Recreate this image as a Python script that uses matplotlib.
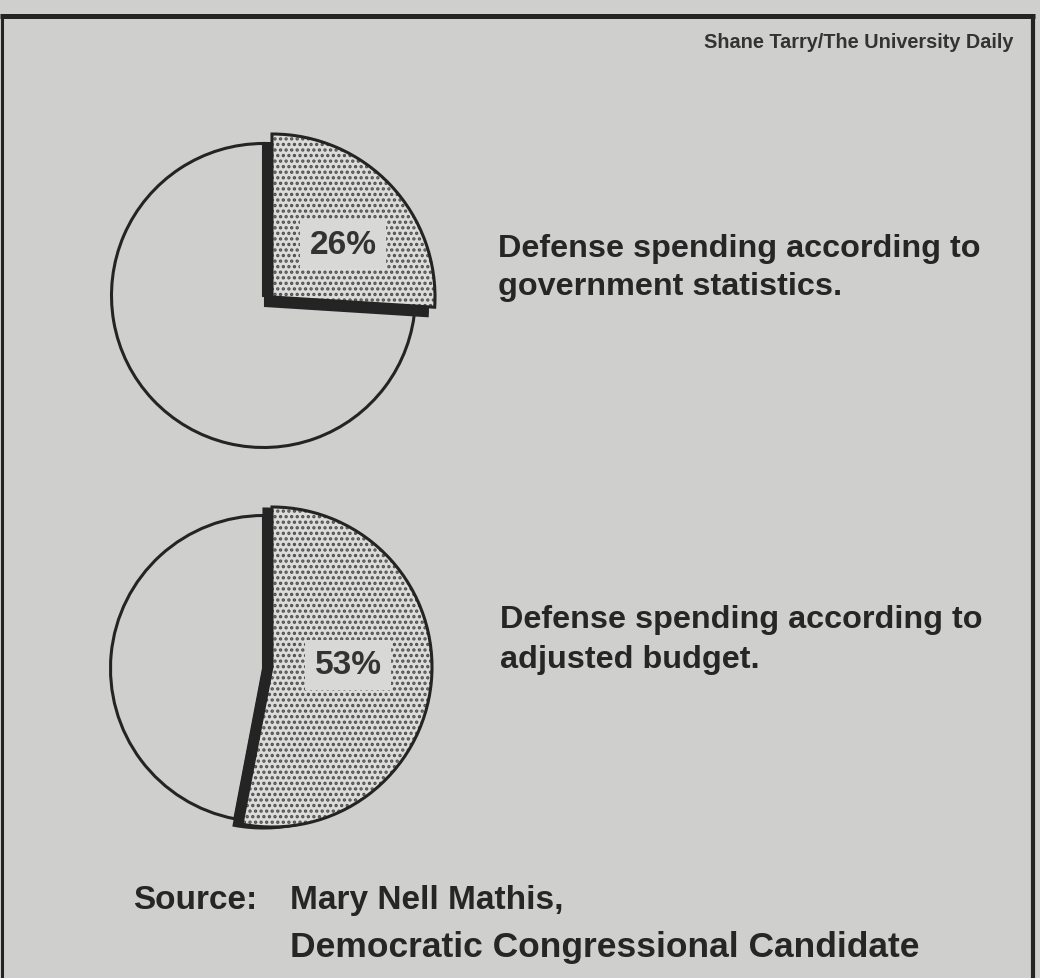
import matplotlib
matplotlib.use('Agg')
import matplotlib.pyplot as plt

# ---------------- data ----------------
shares = [[26, 74], [53, 47]]            # defense share vs rest (percent)
pct_labels = ['26%', '53%']
captions = [['Defense spending according to', 'government statistics.'],
            ['Defense spending according to', 'adjusted budget.']]
credit = 'Shane Tarry/The University Daily'
source_head = 'Source:'
source_lines = ['Mary Nell Mathis,', 'Democratic Congressional Candidate']

# ---------------- style / layout ----------------
W, H = 1040, 979
BG = '#cfd0ce'
INK = '#242424'
DOTFILL = '#dcdcda'
DOTCOL = '#4e4e4e'
BOXFILL = '#d8d8d6'
FONT = 'Liberation Sans'
plt.rcParams['hatch.linewidth'] = 1.6

fig = plt.figure(figsize=(10.4, 9.79), dpi=100)
fig.patch.set_facecolor(BG)
ax = fig.add_axes([0, 0, 1, 1])
ax.set_facecolor(BG)


def Y(y):
    return H - y


layout = [
    dict(base=(263.5, 296.5), rb=152, wedge=(272, 298), rw=163, shadow=(-7, 9),
         label=(343, 245), cap=(498, 257, 295)),
    dict(base=(263.5, 669.5), rb=153, wedge=(272, 668), rw=160, shadow=(-8.5, 1.5),
         label=(348, 666), cap=(500, 628, 668)),
]

for vals, lab, cap, L in zip(shares, pct_labels, captions, layout):
    bx, by = L['base']
    wx, wy = L['wedge']
    sx, sy = L['shadow']
    common = dict(startangle=90, counterclock=False, frame=True)
    # full pie (plain)
    ax.pie(vals, radius=L['rb'], center=(bx, Y(by)), colors=[BG, BG],
           wedgeprops=dict(edgecolor=INK, linewidth=2.2), **common)
    # shadow of the highlighted wedge
    ws, _ = ax.pie(vals, radius=L['rw'], center=(wx + sx, Y(wy + sy)),
                   colors=[INK, 'none'],
                   wedgeprops=dict(edgecolor=INK, linewidth=1.5), **common)
    ws[1].set_visible(False)
    # dotted highlighted wedge
    wd, _ = ax.pie(vals, radius=L['rw'], center=(wx, Y(wy)),
                   colors=[DOTFILL, 'none'], hatch=['...', ''],
                   wedgeprops=dict(edgecolor=DOTCOL, linewidth=0), **common)
    wd[1].set_visible(False)
    # outline of highlighted wedge
    wo, _ = ax.pie(vals, radius=L['rw'], center=(wx, Y(wy)),
                   colors=['none', 'none'],
                   wedgeprops=dict(edgecolor=INK, linewidth=2.2), **common)
    wo[1].set_visible(False)

    lx, ly = L['label']
    ax.text(lx, Y(ly), lab, ha='center', va='center', fontsize=24,
            family=FONT, weight='bold', color='#333333',
            bbox=dict(boxstyle='square,pad=0.28', fc=BOXFILL, ec='none'))

    cx, b1, b2 = L['cap']
    ax.text(cx, Y(b1), cap[0], ha='left', va='baseline', fontsize=23.3,
            family=FONT, weight='bold', color='#262626')
    ax.text(cx, Y(b2), cap[1], ha='left', va='baseline', fontsize=23.3,
            family=FONT, weight='bold', color='#262626')

# credit line
ax.text(1013, Y(48), credit, ha='right', va='baseline', fontsize=14.3,
        family=FONT, weight='bold', color='#333333')

# source
ax.text(133, Y(909), source_head, ha='left', va='baseline', fontsize=24,
        family=FONT, weight='bold', color='#262626')
ax.text(290, Y(909), source_lines[0], ha='left', va='baseline', fontsize=24,
        family=FONT, weight='bold', color='#262626')
ax.text(290, Y(957), source_lines[1], ha='left', va='baseline', fontsize=25.5,
        family=FONT, weight='bold', color='#262626')

# frame
ax.plot([0, 1035], [Y(17), Y(17)], color=INK, lw=3.6, solid_capstyle='butt')
ax.plot([1.5, 1.5], [Y(17), Y(985)], color=INK, lw=2.2, solid_capstyle='butt')
ax.plot([1033, 1033], [Y(15), Y(985)], color=INK, lw=3.0, solid_capstyle='butt')

ax.set_xlim(0, W)
ax.set_ylim(0, H)
ax.set_aspect('auto')
ax.axis('off')

fig.savefig('out.png', dpi=100, facecolor=BG)
